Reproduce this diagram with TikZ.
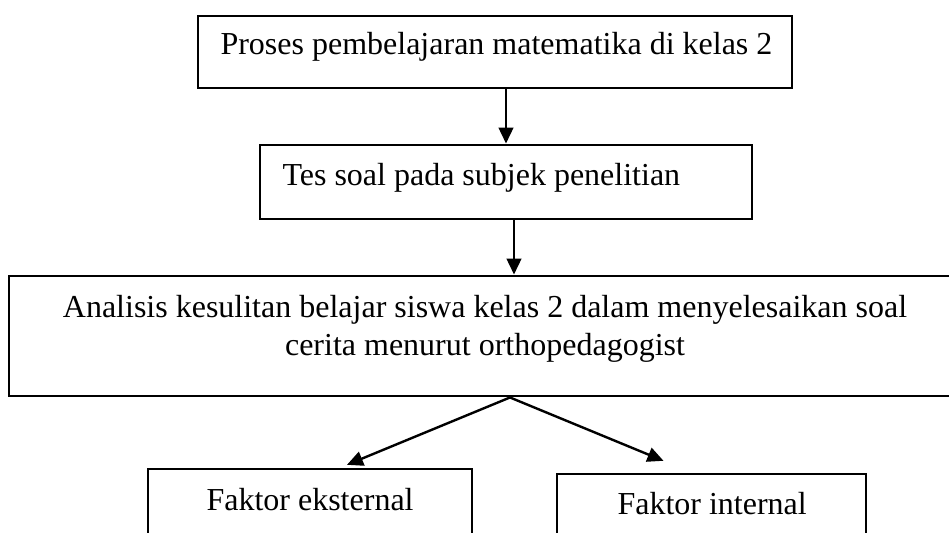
\documentclass[tikz,border=0pt]{standalone}
\usepackage{fontspec}
\setmainfont{Liberation Serif}
\usetikzlibrary{arrows.meta,fit}

\begin{document}
\begin{tikzpicture}[x=0.375pt, y=-0.375pt,
    box/.style={draw, line width=1.1pt, inner sep=0pt},
    txt/.style={font=\fontsize{12}{14.4}\selectfont, inner sep=0pt, anchor=base west},
    arr/.style={-{Triangle[length=6pt, width=5.5pt]}, line width=0.9pt},
]
\useasboundingbox (0,0) rectangle (949,533);

% --- boxes ---
\node[box, fit={(198,16) (792,88)}] (b1) {};
\node[box, fit={(260,145) (752,219)}] (b2) {};
\node[box, fit={(9,276) (1011,396)}] (b3) {};
\node[box, line width=0.9pt, fit={(148,469) (472,560)}] (b4) {};
\node[box, line width=0.9pt, fit={(557,474) (866,560)}] (b5) {};

% --- texts ---
\node[txt] (t1) at (220,54) {Proses pembelajaran matematika di kelas 2};
\node[txt] (t2) at (282,185) {Tes soal pada subjek penelitian};
\node[txt, anchor=base] (t3a) at (485,317) {Analisis kesulitan belajar siswa kelas 2 dalam menyelesaikan soal};
\node[txt, anchor=base] (t3b) at (485,355) {cerita menurut orthopedagogist};
\node[txt] (t4) at (206,510) {Faktor eksternal};
\node[txt] (t5) at (617,514) {Faktor internal};

% --- arrows ---
\draw[arr] (b1.south -| b2.north) -- (b2.north);
\draw[arr] ([xshift=3pt]b2.south) -- ([xshift=3pt]b2.south |- b3.north);
\draw[arr] (b3.south) -- ([shift={(37,-3)}]b4.north);
\draw[arr] (b3.south) -- ([shift={(-48,-12)}]b5.north);
\end{tikzpicture}
\end{document}
